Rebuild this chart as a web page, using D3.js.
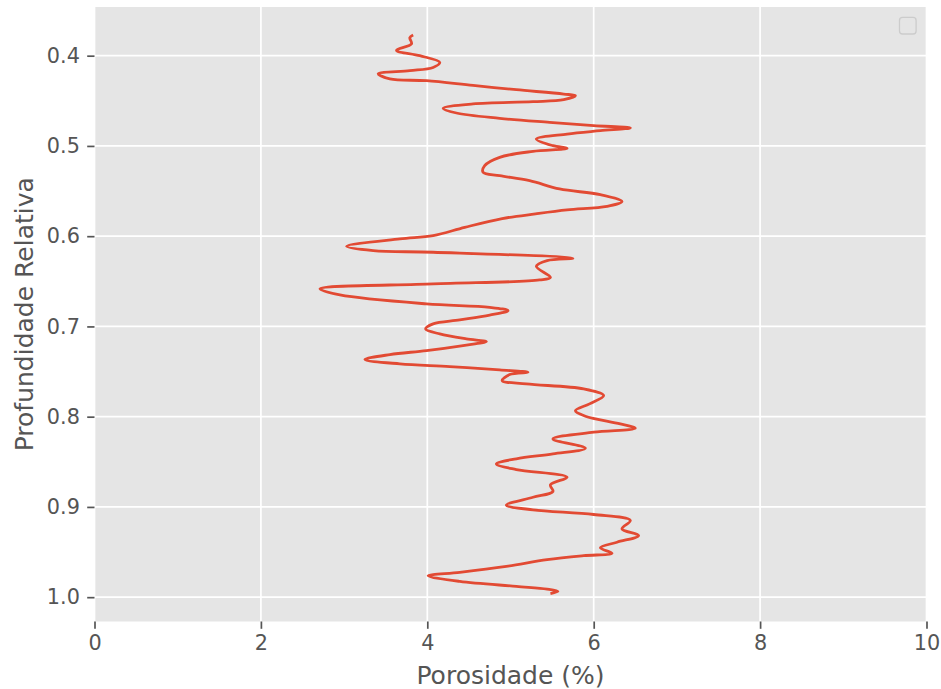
<!DOCTYPE html>
<html>
<head>
<meta charset="utf-8">
<script src="https://cdn.jsdelivr.net/npm/d3@7"></script>
<style>
body{margin:0;background:#fff;}
text{font-family:"DejaVu Sans",sans-serif;}
</style>
</head>
<body>
<script>
// values (top to bottom)
let depth = [0.377,0.380,0.387,0.394,0.400,0.4074,0.413,0.4166,0.420,0.4258,0.4277,0.433,0.4377,0.4425,0.4443,0.4487,0.451,0.4535,0.4583,0.4635,
  0.4694,0.4739,0.4775,0.480,0.4831,0.4868,0.4923,0.4997,0.5027,0.506,0.5126,0.5218,0.5292,0.5329,0.5385,0.5477,0.554,0.5617,0.5669,0.5709,
  0.5753,0.5805,0.5902,0.5994,0.603,0.6112,0.616,0.6178,0.6245,0.627,0.6334,0.6456,0.6485,0.6529,0.6584,0.6651,0.675,0.6788,0.6825,0.6875,
  0.6928,0.6972,0.7028,0.7083,0.7138,0.7168,0.7212,0.7268,0.7312,0.7367,0.7415,0.7445,0.7482,0.7508,0.7533,0.760,0.7637,0.7692,0.7766,0.7858,
  0.7935,0.7995,0.808,0.8128,0.8172,0.8246,0.835,0.8412,0.8467,0.8523,0.8586,0.8671,0.8755,0.8829,0.8893,0.898,0.9032,0.9084,0.915,0.9243,
  0.9317,0.9391,0.9453,0.9513,0.954,0.9585,0.9659,0.9725,0.9762,0.9825,0.988,0.991,0.9935,0.996];
let porosity = [3.83,3.79,3.81,3.63,3.91,4.15,4.07,3.79,3.41,3.55,3.99,4.55,5.07,5.64,5.78,5.64,5.27,4.55,4.19,4.35,
  4.87,5.47,6.00,6.44,6.08,5.68,5.31,5.51,5.68,5.27,4.87,4.69,4.67,4.87,5.23,5.59,6.08,6.34,6.16,5.68,
  5.30,4.90,4.45,4.07,3.67,3.03,3.35,4.07,5.75,5.44,5.31,5.48,5.35,4.07,2.71,2.95,3.99,4.75,4.97,4.75,
  4.39,4.07,3.98,4.15,4.47,4.71,4.43,3.99,3.55,3.25,3.67,4.27,4.87,5.21,4.99,4.90,5.19,5.88,6.12,5.95,
  5.78,5.90,6.32,6.50,6.00,5.51,5.90,5.51,5.07,4.83,5.07,5.68,5.48,5.51,5.27,4.95,5.27,6.00,6.44,6.34,
  6.54,6.28,6.08,6.22,5.88,5.44,4.95,4.39,4.01,4.39,5.07,5.44,5.57,5.48];
let xTicks = [0,2,4,6,8,10];
let yTicks = [0.4,0.5,0.6,0.7,0.8,0.9,1.0];
let xLabel = 'Porosidade (%)', yLabel = 'Profundidade Relativa';

// setup svg
let width = 941, height = 689;
let svg = d3.select('body').append('svg').attr('width',width).attr('height',height);
let pLeft = 94.5, pRight = 926.5, pTop = 7, pBottom = 621.5;

// scales (y like matplotlib autoscale with 5% margin, inverted)
let ext = d3.extent(depth), pad = (ext[1]-ext[0])*0.05;
let x = d3.scaleLinear().domain([0,10]).range([pLeft,pRight]);
let y = d3.scaleLinear().domain([ext[0]-pad, ext[1]+pad]).range([pTop,pBottom]);

// background + grid
svg.append('rect').attr('x',pLeft).attr('y',pTop).attr('width',pRight-pLeft).attr('height',pBottom-pTop).attr('fill','#e5e5e5');
let grid = svg.append('g');
grid.selectAll('.gx').data(xTicks).join('line').attr('x1',d=>x(d)).attr('x2',d=>x(d)).attr('y1',pTop).attr('y2',pBottom)
  .attr('stroke','#fff').attr('stroke-width',1.7);
grid.selectAll('.gy').data(yTicks).join('line').attr('y1',d=>y(d)).attr('y2',d=>y(d)).attr('x1',pLeft).attr('x2',pRight)
  .attr('stroke','#fff').attr('stroke-width',1.7);

// axes
let xAxis = svg.append('g').attr('transform',`translate(0,${pBottom})`)
  .call(d3.axisBottom(x).tickValues(xTicks).tickFormat(d3.format('d')).tickSize(7.3).tickPadding(6.5));
let yAxis = svg.append('g').attr('transform',`translate(${pLeft},0)`)
  .call(d3.axisLeft(y).tickValues(yTicks).tickFormat(d3.format('.1f')).tickSize(7.3).tickPadding(7.3));
[xAxis,yAxis].forEach(a=>{
  a.select('.domain').remove();
  a.selectAll('line').attr('stroke','#555').attr('stroke-width',1.7);
  a.selectAll('text').attr('fill','#555').style('font-size','20.8px').style('font-family','"DejaVu Sans",sans-serif');
});

// the line, lightly smoothed
let line = d3.line().x(d=>x(d[1])).y(d=>y(d[0])).curve(d3.curveCatmullRom.alpha(0.5));
svg.append('path').datum(depth.map((d,i)=>[d,porosity[i]])).attr('d',line)
  .attr('fill','none').attr('stroke','#E24A33').attr('stroke-width',2.8).attr('stroke-linejoin','round');

// empty legend box
svg.append('rect').attr('x',899.5).attr('y',17.4).attr('width',16.6).attr('height',16.6).attr('rx',3)
  .attr('fill','#e5e5e5').attr('fill-opacity',0.8).attr('stroke','#cccccc').attr('stroke-width',1.3);

// labels
svg.append('text').attr('x',(pLeft+pRight)/2).attr('y',684).attr('text-anchor','middle')
  .attr('fill','#555').style('font-size','25px').text(xLabel);
svg.append('text').attr('transform',`translate(32.8,${(pTop+pBottom)/2}) rotate(-90)`).attr('text-anchor','middle')
  .attr('fill','#555').style('font-size','25px').text(yLabel);
</script>
</body>
</html>
